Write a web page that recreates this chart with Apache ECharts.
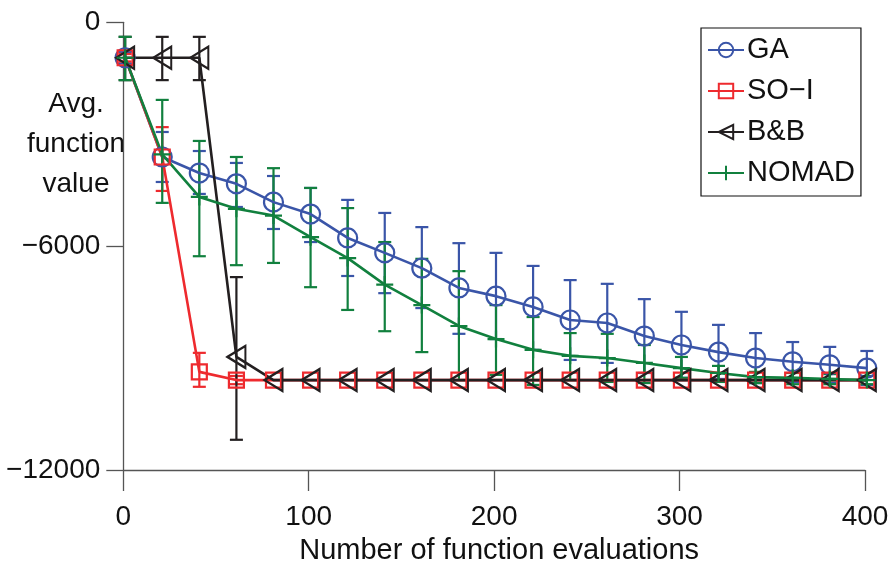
<!DOCTYPE html>
<html>
<head>
<meta charset="utf-8">
<script src="https://cdn.jsdelivr.net/npm/echarts@6/dist/echarts.min.js"></script>
<style>
  html, body { margin: 0; padding: 0; background: #fff; }
  #chart { width: 892px; height: 563px; }
</style>
</head>
<body>
<div id="chart"></div>
<script>
// ---------- data ----------
const xValues = [1, 21, 41, 61, 81, 101, 121, 141, 161, 181, 201, 221, 241, 261, 281, 301, 321, 341, 361, 381, 401];
const xTicks = [0, 100, 200, 300, 400];
const yTicks = [0, -6000, -12000];

const gaMean  = [-950, -3610, -4040, -4330, -4820, -5140, -5780, -6180, -6590, -7120, -7340, -7630, -7980, -8060, -8410, -8650, -8840, -9000, -9100, -9180, -9270];
const gaUpper = [-800, -2940, -3450, -3770, -4120, -4440, -4760, -5110, -5490, -5920, -6180, -6530, -6910, -7010, -7420, -7760, -8110, -8330, -8570, -8700, -8810];
const gaLower = [-1100, -4280, -4600, -4950, -5540, -5890, -6800, -7260, -7660, -8350, -8490, -8780, -9050, -9130, -9400, -9530, -9560, -9670, -9640, -9670, -9720];

const soMean  = [-950, -3610, -9370, -9590, -9590, -9590, -9590, -9590, -9590, -9590, -9590, -9590, -9590, -9590, -9590, -9590, -9590, -9590, -9590, -9590, -9590];
const soUpper = [-850, -2810, -8860, -9480, -9590, -9590, -9590, -9590, -9590, -9590, -9590, -9590, -9590, -9590, -9590, -9590, -9590, -9590, -9590, -9590, -9590];
const soLower = [-1050, -4520, -9770, -9700, -9590, -9590, -9590, -9590, -9590, -9590, -9590, -9590, -9590, -9590, -9590, -9590, -9590, -9590, -9590, -9590, -9590];

const bbMean  = [-950, -950, -950, -8970, -9590, -9590, -9590, -9590, -9590, -9590, -9590, -9590, -9590, -9590, -9590, -9590, -9590, -9590, -9590, -9590, -9590];
const bbUpper = [-390, -390, -390, -6830, -9590, -9590, -9590, -9590, -9590, -9590, -9590, -9590, -9590, -9590, -9590, -9590, -9590, -9590, -9590, -9590, -9590];
const bbLower = [-1550, -1550, -1550, -11190, -9590, -9590, -9590, -9590, -9590, -9590, -9590, -9590, -9590, -9590, -9590, -9590, -9590, -9590, -9590, -9590, -9590];

const nmMean  = [-950, -3540, -4680, -5000, -5180, -5760, -6320, -7030, -7580, -8140, -8490, -8780, -8940, -9000, -9130, -9270, -9400, -9510, -9530, -9560, -9590];
const nmUpper = [-390, -2080, -3180, -3610, -3910, -4440, -4980, -5890, -6340, -6670, -7580, -7900, -8330, -8350, -8650, -8970, -9210, -9370, -9400, -9430, -9480];
const nmLower = [-1550, -4840, -6270, -6510, -6450, -7100, -7710, -8280, -8840, -9590, -9450, -9720, -9590, -9640, -9670, -9530, -9640, -9670, -9700, -9700, -9700];

const seriesNames = ['GA', 'SO\u2212I', 'B&B', 'NOMAD'];
// ---------- styles ----------
const COLORS = ['#3a55a8', '#ee2a2e', '#231f20', '#11803e'];
const FONT = 'Liberation Sans, Arial, sans-serif';

function pairs(mean) { return xValues.map((x, i) => [x, mean[i]]); }
function ebData(upper, lower) { return xValues.map((x, i) => [x, upper[i], lower[i]]); }

function errorSeries(upper, lower, color) {
  return {
    type: 'custom',
    data: ebData(upper, lower),
    clip: false,
    silent: true,
    encode: { x: 0, y: [1, 2] },
    renderItem: function (params, api) {
      const x = api.value(0), hi = api.value(1), lo = api.value(2);
      if (hi === lo) return null;
      const p1 = api.coord([x, hi]);
      const p2 = api.coord([x, lo]);
      const w = 6.5;
      const st = { stroke: color, lineWidth: 2.2, fill: null };
      return {
        type: 'group',
        children: [
          { type: 'line', shape: { x1: p1[0], y1: p1[1], x2: p2[0], y2: p2[1] }, style: st },
          { type: 'line', shape: { x1: p1[0] - w, y1: p1[1], x2: p1[0] + w, y2: p1[1] }, style: st },
          { type: 'line', shape: { x1: p2[0] - w, y1: p2[1], x2: p2[0] + w, y2: p2[1] }, style: st }
        ]
      };
    }
  };
}

function lineSeries(name, mean, color, symbol, size, rotate) {
  return {
    name: name,
    type: 'line',
    data: pairs(mean),
    clip: false,
    symbol: symbol,
    symbolSize: size,
    symbolRotate: rotate || 0,
    showAllSymbol: true,
    lineStyle: { color: color, width: 2.6 },
    itemStyle: { color: 'rgba(255,255,255,0)', borderColor: color, borderWidth: 2.2 },
    emphasis: { disabled: true },
    animation: false
  };
}

const chart = echarts.init(document.getElementById('chart'), null, { renderer: 'canvas' });

const axisColor = '#555';
chart.setOption({
  animation: false,
  backgroundColor: '#fff',
  grid: { left: 123.3, right: 27, top: 22.3, bottom: 93, containLabel: false, outerBoundsMode: 'none' },
  xAxis: {
    type: 'value', min: 0, max: 400, interval: 100,
    axisLine: { show: true, onZero: false, lineStyle: { color: axisColor, width: 1.3 } },
    axisTick: { show: true, inside: false, length: 21, lineStyle: { color: axisColor, width: 1.3 } },
    axisLabel: { margin: 33, color: '#111', fontSize: 28, fontFamily: FONT },
    splitLine: { show: false },
    name: 'Number of function evaluations',
    nameLocation: 'middle', nameGap: 66,
    nameTextStyle: { color: '#111', fontSize: 29, fontFamily: FONT, padding: [0, 0, 0, 10] }
  },
  yAxis: {
    type: 'value', min: -12000, max: 0, interval: 6000,
    axisLine: { show: true, onZero: false, lineStyle: { color: axisColor, width: 1.3 } },
    axisTick: { show: true, inside: false, length: 17, lineStyle: { color: axisColor, width: 1.3 } },
    axisLabel: { margin: 23, color: '#111', fontSize: 28, fontFamily: FONT,
      formatter: function (v) { return String(v).replace('-', '\u2212'); } },
    splitLine: { show: false }
  },
  legend: {
    orient: 'vertical',
    left: 701, top: 28,
    padding: [7, 6, 8, 6],
    borderColor: '#111', borderWidth: 1.2,
    itemWidth: 36, itemHeight: 18, itemGap: 11,
    textStyle: { color: '#111', fontSize: 29, fontFamily: FONT, lineHeight: 30, padding: [0, 0, 0, -2] },
    data: seriesNames
  },
  graphic: [{
    type: 'text',
    x: 76, y: 84,
    style: {
      text: 'Avg.\nfunction\nvalue',
      textAlign: 'center',
      fill: '#111',
      font: '28px ' + FONT,
      lineHeight: 40
    }
  }],
  series: [
    errorSeries(gaUpper, gaLower, COLORS[0]),
    lineSeries(seriesNames[0], gaMean, COLORS[0], 'circle', 19),
    errorSeries(soUpper, soLower, COLORS[1]),
    lineSeries(seriesNames[1], soMean, COLORS[1], 'rect', 15),
    errorSeries(bbUpper, bbLower, COLORS[2]),
    lineSeries(seriesNames[2], bbMean, COLORS[2], 'triangle', [22, 18], 90),
    errorSeries(nmUpper, nmLower, COLORS[3]),
    lineSeries(seriesNames[3], nmMean, COLORS[3], 'path://M10,0 L10,20 M0,10 L20,10', 17)
  ]
});
</script>
</body>
</html>
